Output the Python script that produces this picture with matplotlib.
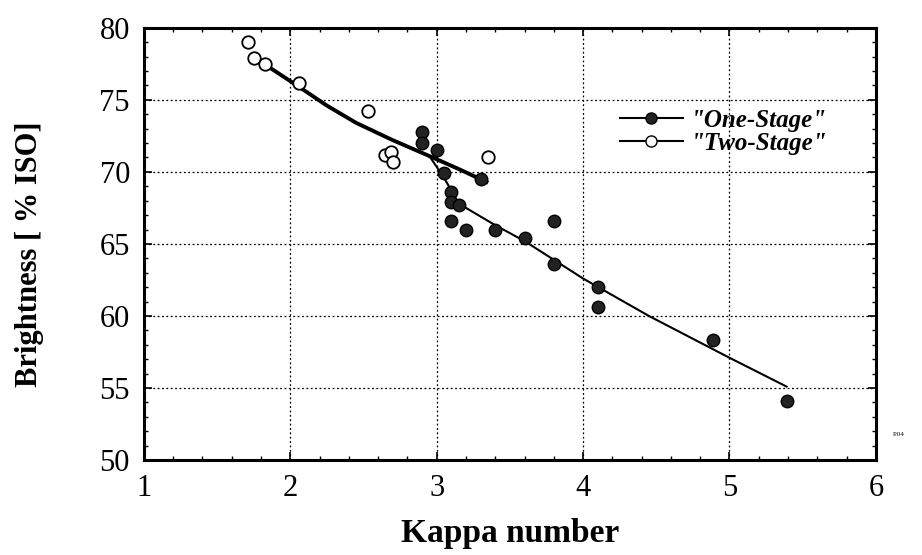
import matplotlib
matplotlib.use("Agg")
import matplotlib.pyplot as plt
from matplotlib.ticker import MultipleLocator

# ── Data ──────────────────────────────────────────────────────────────────────
one_kappa = [2.90, 2.90, 3.00, 3.05, 3.10, 3.10, 3.15, 3.10, 3.20, 3.40, 3.60,
             3.80, 3.80, 4.10, 4.10, 4.89, 5.39, 3.30]
one_bright = [72.8, 72.0, 71.5, 69.9, 68.6, 67.9, 67.7, 66.6, 66.0, 66.0, 65.4,
              66.6, 63.6, 62.0, 60.6, 58.3, 54.1, 69.5]

two_kappa = [1.71, 1.75, 1.83, 2.06, 2.53, 2.65, 2.69, 2.70, 3.35]
two_bright = [79.0, 77.9, 77.5, 76.2, 74.2, 71.2, 71.4, 70.7, 71.0]

# trend curves as drawn in the figure
one_fit_k = [2.95, 3.05, 3.15, 3.40, 3.60, 4.00, 4.45, 5.00, 5.39]
one_fit_b = [71.1, 69.6, 67.8, 66.3, 65.2, 62.6, 60.0, 57.1, 55.1]
two_fit_k = [1.85, 2.06, 2.25, 2.45, 2.70, 2.95, 3.15, 3.34]
two_fit_b = [77.3, 75.9, 74.6, 73.4, 72.2, 71.1, 70.2, 69.3]

SERIF = ["Liberation Serif", "DejaVu Serif"]

fig = plt.figure(figsize=(9.22, 5.55), dpi=100)
ax = fig.add_axes([0.156, 0.171, 0.794, 0.779])

ax.plot(one_fit_k, one_fit_b, color="black", lw=1.5, zorder=2)
ax.plot(two_fit_k, two_fit_b, color="black", lw=2.8, zorder=2)

ax.plot(one_kappa, one_bright, "o", color="#222222", mec="black", ms=9,
        zorder=3)
ax.plot(two_kappa, two_bright, "o", color="white", mec="black", mew=1.3,
        ms=9, zorder=3)

# legend handles
h1, = ax.plot([], [], "-o", color="black", mfc="#222222", lw=1.5, ms=8)
h2, = ax.plot([], [], "-o", color="black", mfc="white", lw=1.5, ms=8)
ax.legend([h1, h2], ['"One-Stage"', '"Two-Stage"'], loc="upper left",
          bbox_to_anchor=(0.62, 0.865), frameon=False, numpoints=1,
          handlelength=2.5, handletextpad=0.3, labelspacing=0.0,
          prop={"family": SERIF, "style": "italic", "weight": "bold",
                "size": 18})

ax.set_xlim(1, 6)
ax.set_ylim(50, 80)
ax.xaxis.set_major_locator(MultipleLocator(1))
ax.xaxis.set_minor_locator(MultipleLocator(0.2))
ax.yaxis.set_major_locator(MultipleLocator(5))
ax.yaxis.set_minor_locator(MultipleLocator(1))
ax.tick_params(which="both", direction="in", top=True, right=True)
ax.tick_params(which="major", length=6, width=1.2, labelsize=22, pad=10)
ax.tick_params(which="minor", length=3, width=1)
for lab in ax.get_xticklabels() + ax.get_yticklabels():
    lab.set_family(SERIF)

ax.grid(True, which="major", color="black", ls=(0, (1.5, 2)), lw=0.9)
for s in ax.spines.values():
    s.set_linewidth(2.2)

ax.set_xlabel("Kappa number", family=SERIF, fontsize=24, fontweight="bold")
ax.set_ylabel("Brightness [ % ISO]", family=SERIF, fontsize=22,
              fontweight="bold")
ax.xaxis.set_label_coords(0.5, -0.135)
ax.yaxis.set_label_coords(-0.136, 0.475)

fig.text(0.975, 0.215, "P.04", family=SERIF, fontsize=5, ha="center")

fig.savefig("out.png", dpi=100, facecolor="white")
